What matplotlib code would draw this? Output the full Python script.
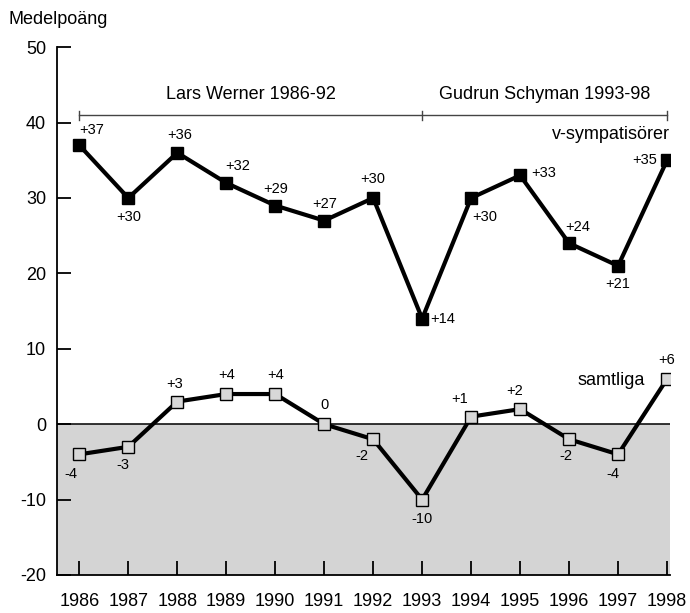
import matplotlib
matplotlib.use("Agg")
import matplotlib.pyplot as plt

plt.rcParams["font.family"] = ["Liberation Sans", "DejaVu Sans"]
plt.rcParams["axes.unicode_minus"] = False

# data
years = [1986, 1987, 1988, 1989, 1990, 1991, 1992, 1993, 1994, 1995, 1996, 1997, 1998]
v_symp = [37, 30, 36, 32, 29, 27, 30, 14, 30, 33, 24, 21, 35]
samtliga = [-4, -3, 3, 4, 4, 0, -2, -10, 1, 2, -2, -4, 6]

# label offsets (points) for each data label
v_offsets = [(9, 11), (0, -14), (2, 13), (8, 12), (0, 12), (0, 12), (0, 14),
             (15, 0), (10, -14), (17, 2), (6, 12), (0, -13), (-16, 0)]
s_offsets = [(-6, -14), (-4, -13), (-2, 13), (0, 14), (0, 14), (0, 14), (-8, -12),
             (0, -14), (-8, 13), (-4, 13), (-2, -12), (-4, -14), (0, 14)]

fig = plt.figure(figsize=(6.9, 6.13), dpi=100)
ax = fig.add_axes([0.083, 0.062, 0.888, 0.861])

ax.set_xlim(1985.55, 1998.06)
ax.set_ylim(-20, 50)

# grey area below zero and the zero line
ax.axhspan(-20, 0, color="#d4d4d4", zorder=0)
ax.axhline(0, color="black", lw=1.1, zorder=1)

ax.plot(years, v_symp, color="black", lw=3, marker="s", markersize=9,
        markerfacecolor="black", markeredgecolor="black", zorder=3)
ax.plot(years, samtliga, color="black", lw=3, marker="s", markersize=9,
        markerfacecolor="#d8d8d8", markeredgecolor="black", markeredgewidth=1,
        zorder=3)

def fmt(v):
    return "%+d" % v if v != 0 else "0"

for x, y, off in zip(years, v_symp, v_offsets):
    ax.annotate(fmt(y), (x, y), xytext=off, textcoords="offset points",
                ha="center", va="center", fontsize=10.5)
for x, y, off in zip(years, samtliga, s_offsets):
    ax.annotate(fmt(y), (x, y), xytext=off, textcoords="offset points",
                ha="center", va="center", fontsize=10.5)

# series names
ax.text(1998.05, 38.4, "v-sympatisörer", ha="right", va="center", fontsize=13)
ax.text(1997.55, 5.8, "samtliga", ha="right", va="center", fontsize=13)

# leader periods
ax.plot([1986, 1998], [41, 41], color="#444444", lw=1)
for xt in [1986, 1993, 1998]:
    ax.plot([xt, xt], [40.4, 41.6], color="#444444", lw=1)
ax.text(1989.5, 43.7, "Lars Werner 1986-92", ha="center", va="center", fontsize=13)
ax.text(1995.5, 43.7, "Gudrun Schyman 1993-98", ha="center", va="center", fontsize=13)

# axes styling
for side in ["top", "right"]:
    ax.spines[side].set_visible(False)
ax.spines["left"].set_linewidth(1.3)
ax.spines["bottom"].set_linewidth(1.3)
ax.set_yticks([-20, -10, 0, 10, 20, 30, 40, 50])
ax.set_xticks(years)
ax.tick_params(axis="y", direction="in", length=10, width=1.3, labelsize=13, pad=8)
ax.tick_params(axis="x", direction="in", length=10, width=1.3, labelsize=13, pad=13)

fig.text(0.012, 0.968, "Medelpoäng", ha="left", va="center", fontsize=13)

plt.savefig("out.png", dpi=100)
